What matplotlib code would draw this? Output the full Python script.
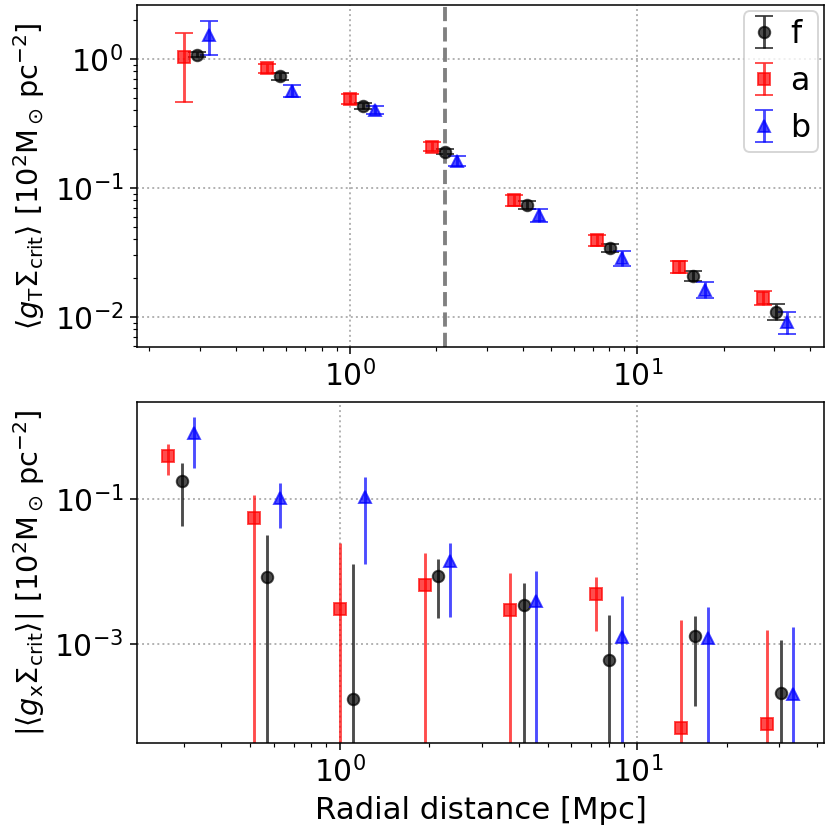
import matplotlib
matplotlib.use("Agg")
import matplotlib.pyplot as plt
from matplotlib.ticker import NullLocator

# radial positions [Mpc]
x_f = [0.294, 0.571, 1.108, 2.14, 4.14, 8.05, 15.6, 30.3]
x_a = [0.265, 0.514, 0.997, 1.93, 3.73, 7.25, 14.0, 27.3]
x_b = [0.323, 0.628, 1.219, 2.35, 4.55, 8.86, 17.2, 33.3]

# tangential
gT_f = [1.08, 0.734, 0.432, 0.191, 0.074, 0.0344, 0.0208, 0.011]
gT_f_err = [0.05, 0.043, 0.025, 0.009, 0.005, 0.0024, 0.0018, 0.0016]
gT_a = [1.03, 0.847, 0.49, 0.209, 0.0807, 0.0395, 0.0245, 0.0141]
gT_a_err = [0.57, 0.07, 0.04, 0.017, 0.0077, 0.004, 0.0025, 0.0018]
gT_b = [1.53, 0.568, 0.402, 0.162, 0.0618, 0.0285, 0.0162, 0.0092]
gT_b_err = [0.45, 0.065, 0.028, 0.015, 0.0074, 0.0038, 0.0023, 0.0018]

# cross
gX_f = [0.181, 0.0084, 0.000176, 0.00855, 0.00345, 0.000607, 0.00127, 0.000211]
gX_f_err = [0.139, 0.0238, 0.0125, 0.0063, 0.0035, 0.0019, 0.00113, 0.00094]
gX_a = [0.395, 0.0547, 0.00304, 0.00658, 0.00297, 0.0049, 0.000069, 0.000079]
gX_a_err = [0.179, 0.06, 0.0217, 0.0114, 0.00656, 0.0034, 0.0021, 0.00146]
gX_b = [0.813, 0.103, 0.1086, 0.01377, 0.00387, 0.00125, 0.00121, 0.000206]
gX_b_err = [0.54, 0.063, 0.096, 0.0114, 0.0064, 0.0034, 0.00203, 0.0015]

r_line = 2.14
labels = ["f", "a", "b"]

FS = 15.5
fig = plt.figure(figsize=(6, 6), dpi=830 / 6)
ax1 = fig.add_axes([0.165, 0.582, 0.828, 0.412])
ax2 = fig.add_axes([0.165, 0.105, 0.828, 0.411])

styles = [dict(fmt="o", color="black"), dict(fmt="s", color="red"), dict(fmt="^", color="blue")]

for x, y, e, st, lab in zip([x_f, x_a, x_b], [gT_f, gT_a, gT_b],
                            [gT_f_err, gT_a_err, gT_b_err], styles, labels):
    ax1.errorbar(x, y, yerr=e, capsize=4.5, alpha=0.7, ms=6, label=lab, **st)
ax1.axvline(r_line, color="gray", ls="--", lw=2)

for x, y, e, st in zip([x_f, x_a, x_b], [gX_f, gX_a, gX_b],
                       [gX_f_err, gX_a_err, gX_b_err], styles):
    ax2.errorbar(x, y, yerr=e, capsize=0, alpha=0.7, ms=6, **st)

for ax in (ax1, ax2):
    ax.set_xscale("log")
    ax.set_yscale("log")
    ax.grid(True, which="major", ls=":", color="#b0b0b0", lw=1)
    ax.tick_params(labelsize=FS)

ax1.set_xlim(0.1815, 44.7)
ax1.set_ylim(0.00585, 2.62)
ax2.set_xlim(0.208, 42.4)
ax2.set_ylim(4.3e-5, 2.22)
ax2.yaxis.set_major_locator(plt.FixedLocator([1e-1, 1e-3]))
ax2.yaxis.set_minor_locator(NullLocator())

ax1.set_ylabel(r"$\langle g_\mathrm{T}\Sigma_\mathrm{crit}\rangle\ [10^2\mathrm{M}_\odot\,\mathrm{pc}^{-2}]$", fontsize=15)
ax2.set_ylabel(r"$|\langle g_\mathrm{x}\Sigma_\mathrm{crit}\rangle|\ [10^2\mathrm{M}_\odot\,\mathrm{pc}^{-2}]$", fontsize=15)
ax2.set_xlabel("Radial distance [Mpc]", fontsize=16)

ax1.legend(loc="upper right", fontsize=16.5, handlelength=0.8, handletextpad=0.4,
           borderaxespad=0.2, borderpad=0.25, labelspacing=0.5)

fig.savefig("out.png", dpi=830 / 6)
